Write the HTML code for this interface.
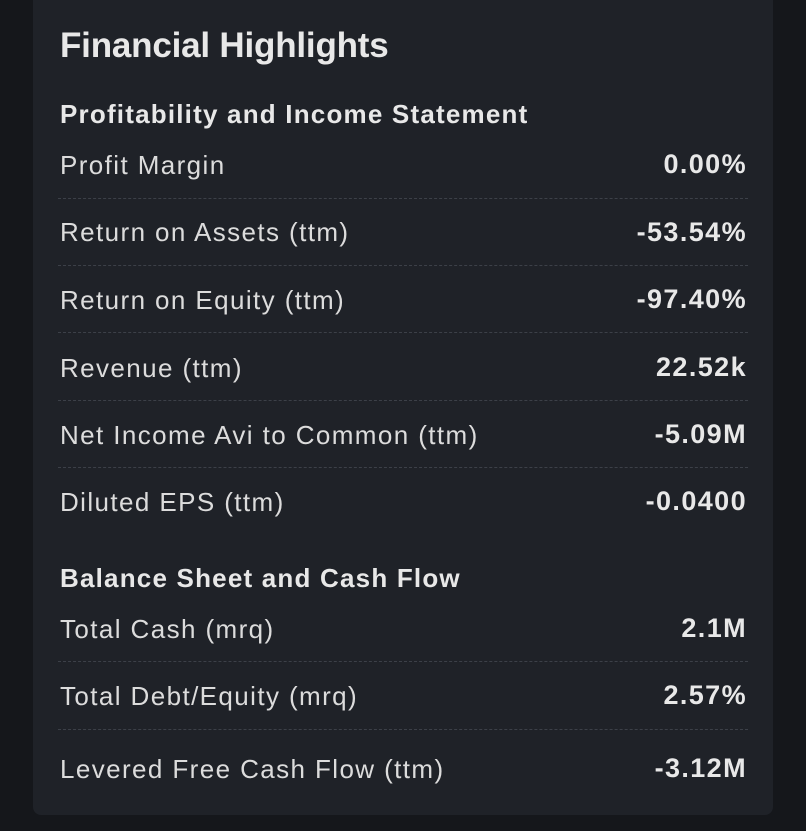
<!DOCTYPE html>
<html><head><meta charset="utf-8"><style>
body{margin:0;width:806px;height:831px;background:#15171b;font-family:"Liberation Sans",sans-serif;overflow:hidden;position:relative}
.card{position:absolute;left:33px;top:0;width:740px;height:815px;background:#1f2228;border-radius:0 0 8px 8px}
.t{position:absolute;color:#e8e8e8;white-space:nowrap;line-height:1}
.title{left:60px;top:28px;font-size:35px;font-weight:bold;letter-spacing:-0.2px}
.sec{left:60px;font-size:26px;font-weight:bold;letter-spacing:1.2px}
.lab{left:60px;font-size:26px;color:#dcdcdc;letter-spacing:1.4px}
.val{right:59px;font-size:27px;font-weight:bold;letter-spacing:1.4px}
.sep{position:absolute;left:58px;width:690px;border-top:1px dashed #3c4048}
</style></head><body>
<div class="card"></div>
<div class="t title">Financial Highlights</div>
<div class="t sec" style="top:101px">Profitability and Income Statement</div>

<div class="t lab" style="top:152px">Profit Margin</div>
<div class="t val" style="top:151px">0.00%</div>
<div class="sep" style="top:198px"></div>

<div class="t lab" style="top:219px">Return on Assets (ttm)</div>
<div class="t val" style="top:219px">-53.54%</div>
<div class="sep" style="top:265px"></div>

<div class="t lab" style="top:287px">Return on Equity (ttm)</div>
<div class="t val" style="top:286px">-97.40%</div>
<div class="sep" style="top:332px"></div>

<div class="t lab" style="top:355px">Revenue (ttm)</div>
<div class="t val" style="top:354px">22.52k</div>
<div class="sep" style="top:400px"></div>

<div class="t lab" style="top:422px">Net Income Avi to Common (ttm)</div>
<div class="t val" style="top:421px">-5.09M</div>
<div class="sep" style="top:467px"></div>

<div class="t lab" style="top:489px">Diluted EPS (ttm)</div>
<div class="t val" style="top:488px">-0.0400</div>

<div class="t sec" style="top:565px">Balance Sheet and Cash Flow</div>

<div class="t lab" style="top:616px">Total Cash (mrq)</div>
<div class="t val" style="top:615px">2.1M</div>
<div class="sep" style="top:661px"></div>

<div class="t lab" style="top:683px">Total Debt/Equity (mrq)</div>
<div class="t val" style="top:682px">2.57%</div>
<div class="sep" style="top:729px"></div>

<div class="t lab" style="top:756px">Levered Free Cash Flow (ttm)</div>
<div class="t val" style="top:755px">-3.12M</div>
</body></html>
